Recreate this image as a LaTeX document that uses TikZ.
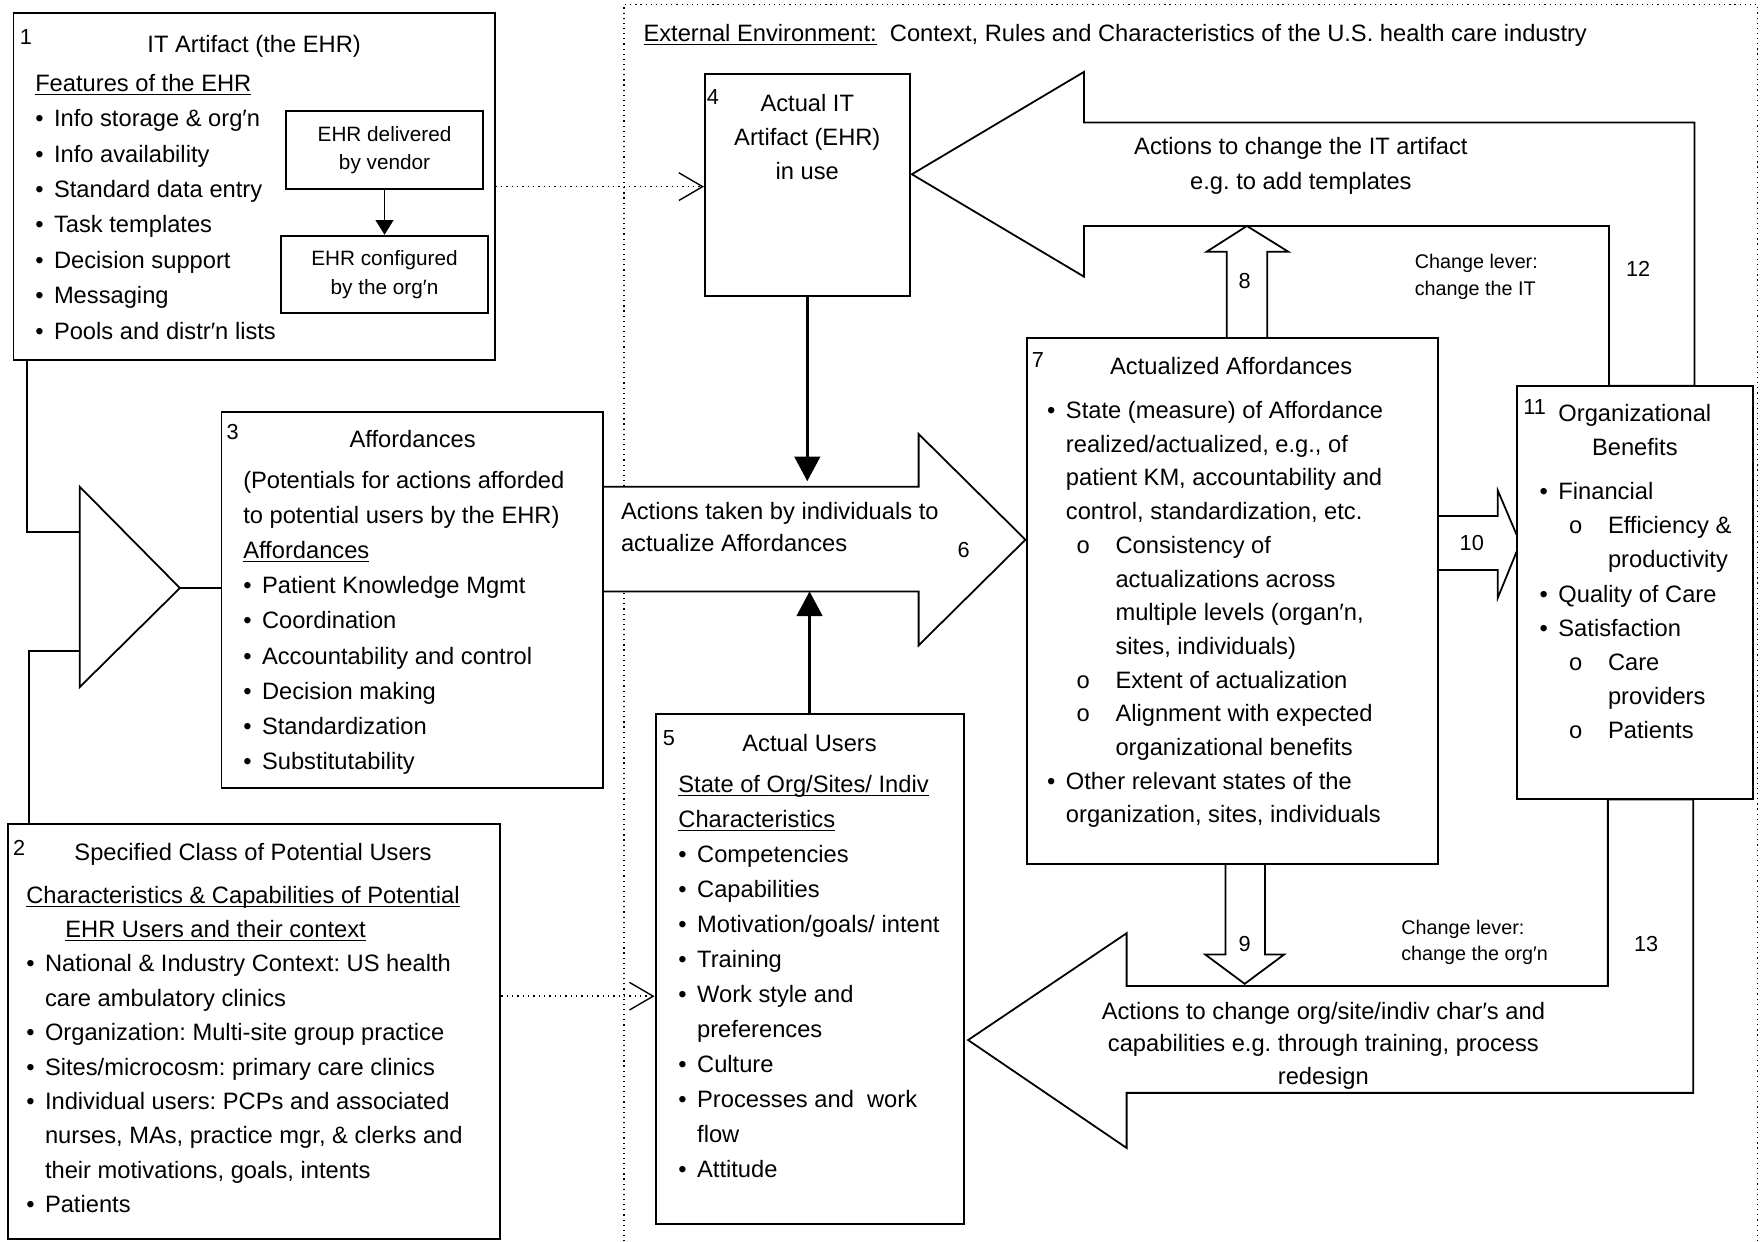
\documentclass[tikz,border=0pt]{standalone}
\usepackage{fontspec}
\setmainfont{Liberation Sans}
\newfontfamily\courierfont{Liberation Mono}
\usetikzlibrary{arrows.meta, positioning, fit}
\tikzset{
  box/.style={rectangle,draw,line width=1pt,fill=white,inner sep=0pt},
  smallbox/.style={rectangle,draw,line width=1pt,align=center,inner sep=0pt,font=\fontsize{10.5}{14.4}\selectfont},
  blockarrow/.style={draw,line width=0.9pt,fill=white,line join=miter},
  body/.style={anchor=north west,inner sep=0pt,align=left,font=\fontsize{12}{#1}\selectfont},
  cbody/.style={anchor=north,inner sep=0pt,align=center,font=\fontsize{12}{#1}\selectfont},
  boxtitle/.style={anchor=base,inner sep=0pt,font=\fontsize{12}{15}\selectfont},
  num/.style={anchor=base,inner sep=0pt,font=\fontsize{11}{13}\selectfont},
  lever/.style={anchor=north west,inner sep=0pt,align=left,font=\fontsize{10}{13.3}\selectfont},
  wire/.style={line width=0.9pt},
  line/.style={line width=1.3pt,-{Triangle[length=12.5pt,width=13pt]}},
  dotline/.style={dotted,line width=0.7pt,-{Straight Barb[length=12pt,width=14pt]}}
}
\newcommand{\ulin}[1]{\underline{\smash{#1}}}
\newcommand{\bul}{\makebox[9.5pt][l]{\textbullet}}
\newcommand{\bulind}{\hspace*{9.5pt}}
\newcommand{\subbul}{\hspace*{14.7pt}\makebox[19.9pt][l]{\courierfont o}}
\newcommand{\subind}{\hspace*{34.6pt}}
\frenchspacing

\begin{document}
\begin{tikzpicture}[x=0.02cm,y=-0.02cm]
\useasboundingbox (0,0) rectangle (1568,1104);

% external environment frame
\draw[dotted,line width=0.6pt] (555,1104) -- (555,4) -- (1563,4) -- (1563,1104);
\node[anchor=base west,inner sep=0pt,font=\fontsize{12}{15}\selectfont] (env) at (572,37)
  {\ulin{External Environment:}\ \ Context, Rules and Characteristics of the U.S. health care industry};

% block arrows
\draw[blockarrow] (811,155) -- (964,64) -- (964,109) -- (1507,109) -- (1507,343) -- (1431,343)
  -- (1431,201) -- (964,201) -- (964,246) -- cycle;
\draw[blockarrow] (861,925) -- (1002,830) -- (1002,877) -- (1430,877) -- (1430,711) -- (1506,711)
  -- (1506,972) -- (1002,972) -- (1002,1021) -- cycle;
\draw[blockarrow] (536,433) -- (817,433) -- (817,386) -- (912,480) -- (817,574) -- (817,526) -- (536,526) -- cycle;
\draw[blockarrow] (1091,301) -- (1091,224) -- (1073,224) -- (1109,201) -- (1146,224) -- (1127,224) -- (1127,301) -- cycle;
\draw[blockarrow] (1090,768) -- (1090,849) -- (1072,849) -- (1107,875) -- (1142,849) -- (1125,849) -- (1125,768) -- cycle;
\draw[blockarrow] (1279,459) -- (1332,459) -- (1332,436) -- (1352,483) -- (1332,532) -- (1332,507) -- (1279,507) -- cycle;

% merge triangle
\draw[wire,fill=white] (71,433) -- (160,523) coordinate (mtip) -- (71,611) -- cycle;
\coordinate (min1) at (71,473);
\coordinate (min2) at (71,579);

% boxes
\node[box, fit={(12,12) (440,320)}] (artifact) {};
\node[box, fit={(7,733) (445,1102)}] (users) {};
\node[box, fit={(197,366) (536,701)}] (affordances) {};
\node[box, fit={(627,66) (809,263)}] (actual) {};
\node[box, fit={(583,635) (857,1089)}] (actualusers) {};
\node[box, fit={(913,301) (1279,768)}] (actualized) {};
\node[box, fit={(1349,343) (1559,711)}] (benefits) {};
\node[smallbox, minimum width=3.52cm, minimum height=1.38cm] (vendor) at (342,133.5) {EHR delivered\\by vendor};
\node[smallbox, minimum width=3.68cm, minimum height=1.38cm, below=0.8cm of vendor] (configured) {EHR configured\\by the org′n};

% box 1
\node[num] at (23,40) {1};
\node[boxtitle] at (226,47) {IT Artifact (the EHR)};
\node[body=17.9pt] at (31,59) {\strut\ulin{Features of the EHR}\\
  \bul Info storage \& org′n\\
  \bul Info availability\\
  \bul Standard data entry\\
  \bul Task templates\\
  \bul Decision support\\
  \bul Messaging\\
  \bul Pools and distr′n lists};

% box 2
\node[num] at (17,761) {2};
\node[boxtitle] at (225,765) {Specified Class of Potential Users};
\node[body=17.4pt] at (23,781.5) {\strut\ulin{Characteristics \& Capabilities of Potential}\\
  \hspace*{19.8pt}\ulin{EHR Users and their context}\\
  \bul National \& Industry Context: US health\\
  \bulind care ambulatory clinics\\
  \bul Organization: Multi-site group practice\\
  \bul Sites/microcosm: primary care clinics\\
  \bul Individual users: PCPs and associated\\
  \bulind nurses, MAs, practice mgr, \& clerks and\\
  \bulind their motivations, goals, intents\\
  \bul Patients};

% box 3
\node[num] at (207,391) {3};
\node[boxtitle] at (367,398) {Affordances};
\node[body=17.8pt] at (216,412) {\strut(Potentials for actions afforded\\
  to potential users by the EHR)\\
  \ulin{Affordances}\\
  \bul Patient Knowledge Mgmt\\
  \bul Coordination\\
  \bul Accountability and control\\
  \bul Decision making\\
  \bul Standardization\\
  \bul Substitutability};

% box 4
\node[num] at (634,93) {4};
\node[cbody=17.3pt] at (718,77.6) {\strut Actual IT\\Artifact (EHR)\\in use};

% box 5
\node[num] at (595,663) {5};
\node[boxtitle] at (720,668) {Actual Users};
\node[body=17.7pt] at (603,683) {\strut\ulin{State of Org/Sites/ Indiv}\\
  \ulin{Characteristics}\\
  \bul Competencies\\
  \bul Capabilities\\
  \bul Motivation/goals/ intent\\
  \bul Training\\
  \bul Work style and\\
  \bulind preferences\\
  \bul Culture\\
  \bul Processes and\ \ work\\
  \bulind flow\\
  \bul Attitude};

% arrow 6
\node[body=15.9pt] at (552,442.4) {\strut Actions taken by individuals to\\actualize Affordances};
\node[num] at (857,496) {6};

% box 7
\node[num] at (923,327) {7};
\node[boxtitle] at (1095,333) {Actualized Affordances};
\node[body=17.05pt] at (931,351) {\strut\bul State (measure) of Affordance\\
  \bulind realized/actualized, e.g., of\\
  \bulind patient KM, accountability and\\
  \bulind control, standardization, etc.\\
  \subbul Consistency of\\
  \subind actualizations across\\
  \subind multiple levels (organ′n,\\
  \subind sites, individuals)\\
  \subbul Extent of actualization\\
  \subbul Alignment with expected\\
  \subind organizational benefits\\
  \bul Other relevant states of the\\
  \bulind organization, sites, individuals};

% box 11
\node[num] at (1365,369) {11};
\node[cbody=17pt] at (1454,354) {\strut Organizational\\Benefits};
\node[body=17.3pt] at (1369,422.6) {\strut\bul Financial\\
  \subbul Efficiency \&\\
  \subind productivity\\
  \bul Quality of Care\\
  \bul Satisfaction\\
  \subbul Care\\
  \subind providers\\
  \subbul Patients};

% feedback arrows
\node[cbody=17.6pt] at (1157,115.8) {\strut Actions to change the IT artifact\\e.g. to add templates};
\node[lever] at (1258,222.3) {\strut Change lever:\\change the IT};
\node[num] at (1457,246) {12};
\node[num] at (1107,257) {8};
\node[cbody=16.7pt] at (1177,885.4) {\strut Actions to change org/site/indiv char′s and\\capabilities e.g. through training, process\\redesign};
\node[lever] at (1246,814.6) {\strut Change lever:\\change the org′n};
\node[num] at (1464,846) {13};
\node[num] at (1107,846) {9};
\node[num] at (1309,490) {10};

% connectors
\draw[wire] ([xshift=7.4pt]artifact.south west) |- (min1);
\draw[wire] ([xshift=11.3pt]users.north west) |- (min2);
\draw[wire] (mtip) -- (mtip -| affordances.west);
\draw[line width=0.9pt,-{Triangle[length=7.5pt,width=9pt]}] (vendor) -- (configured);
\draw[dotline] (artifact.east) -- (artifact.east -| actual.west);
\draw[dotline] (users.east |- 0,886) -- (actualusers.west |- 0,886);
\draw[line] (actual.south) -- (actual.south |- 0,428);
\draw[line] (actualusers.north) -- (actualusers.north |- 0,526);
\end{tikzpicture}
\end{document}
